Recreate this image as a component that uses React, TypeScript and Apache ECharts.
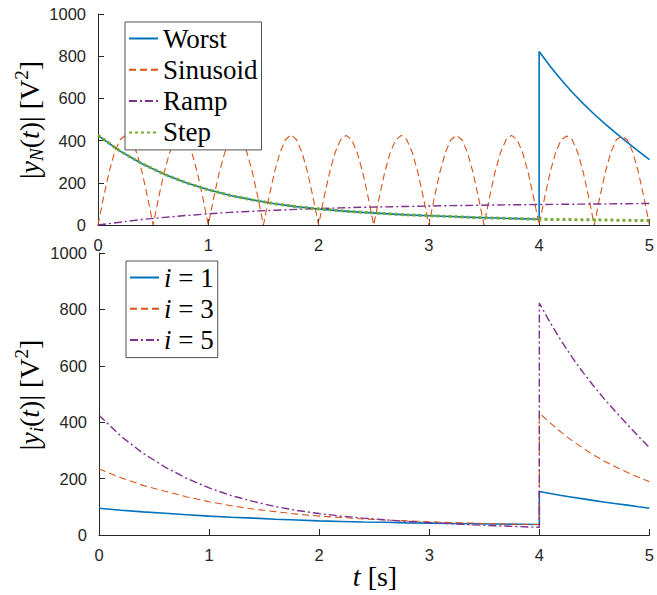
import React, { useEffect, useRef } from "react";
import * as echarts from "echarts";

// ---------- data ----------
const T_PRE = [0, 0.2, 0.4, 0.6, 0.8, 1.0, 1.2, 1.4, 1.6, 1.8, 2.0, 2.2, 2.4, 2.6, 2.8, 3.0, 3.2, 3.4, 3.6, 3.8, 4.0];
const T_POST = [4.0, 4.1, 4.2, 4.3, 4.4, 4.5, 4.6, 4.7, 4.8, 4.9, 5.0];
const T_FULL = [0, 0.2, 0.4, 0.6, 0.8, 1.0, 1.2, 1.4, 1.6, 1.8, 2.0, 2.2, 2.4, 2.6, 2.8, 3.0, 3.2, 3.4, 3.6, 3.8, 4.0, 4.2, 4.4, 4.6, 4.8, 5.0];
const T_SIN = [
  0, 0.05, 0.1, 0.15, 0.2, 0.25, 0.3, 0.35, 0.4, 0.45,
  0.5, 0.55, 0.6, 0.65, 0.7, 0.75, 0.8, 0.85, 0.9, 0.95,
  1.0, 1.05, 1.1, 1.15, 1.2, 1.25, 1.3, 1.35, 1.4, 1.45,
  1.5, 1.55, 1.6, 1.65, 1.7, 1.75, 1.8, 1.85, 1.9, 1.95,
  2.0, 2.05, 2.1, 2.15, 2.2, 2.25, 2.3, 2.35, 2.4, 2.45,
  2.5, 2.55, 2.6, 2.65, 2.7, 2.75, 2.8, 2.85, 2.9, 2.95,
  3.0, 3.05, 3.1, 3.15, 3.2, 3.25, 3.3, 3.35, 3.4, 3.45,
  3.5, 3.55, 3.6, 3.65, 3.7, 3.75, 3.8, 3.85, 3.9, 3.95,
  4.0, 4.05, 4.1, 4.15, 4.2, 4.25, 4.3, 4.35, 4.4, 4.45,
  4.5, 4.55, 4.6, 4.65, 4.7, 4.75, 4.8, 4.85, 4.9, 4.95,
  5.0,
];

const WORST_PRE = [425, 350, 290, 241, 200, 167, 140, 119, 101, 87, 76, 67, 60, 54, 48, 44, 40, 36, 33, 30, 27];
const WORST_POST = [822, 752, 688, 629, 575, 525, 478, 434, 392, 350, 310];
const SINUSOID = [
  0, 131, 250, 344, 404, 425, 404, 344, 250, 131,
  0, 131, 250, 344, 404, 425, 404, 344, 250, 131,
  0, 131, 250, 344, 404, 428, 404, 344, 250, 131,
  0, 131, 250, 344, 404, 428, 404, 344, 250, 131,
  0, 131, 250, 344, 404, 425, 404, 344, 250, 131,
  0, 131, 250, 344, 404, 425, 404, 344, 250, 131,
  0, 131, 250, 344, 404, 425, 404, 344, 250, 131,
  0, 131, 250, 344, 404, 425, 404, 344, 250, 131,
  0, 131, 250, 344, 404, 422, 404, 344, 250, 131,
  0, 131, 250, 344, 404, 422, 404, 344, 250, 131,
  0,
];
const RAMP = [0, 13, 26, 36, 45, 53, 60, 65, 70, 74, 78, 81, 84, 86, 88, 90, 92, 93, 95, 96, 97, 98, 99, 100, 101, 102];
const STEP = [425, 350, 290, 241, 200, 167, 140, 119, 101, 87, 76, 67, 60, 54, 48, 44, 40, 36, 33, 30, 27, 26, 25, 24, 22, 21];

const I1_PRE = [95, 88, 82, 77, 72, 67, 63, 60, 56, 53, 50, 48, 46, 45, 43, 42, 41, 40, 39, 38, 37];
const I1_POST = [154, 147, 140, 134, 128, 122, 116, 111, 106, 100, 95];
const I3_PRE = [234, 203, 176, 155, 135, 118, 104, 92, 83, 74, 67, 62, 57, 53, 50, 47, 44, 42, 40, 38, 37];
const I3_POST = [432, 397, 364, 334, 307, 282, 260, 240, 222, 205, 189];
const I5_PRE = WORST_PRE;
const I5_POST = WORST_POST;

const X_TICKS = [0, 1, 2, 3, 4, 5];
const Y_TICKS = [0, 200, 400, 600, 800, 1000];

const TOP_NAMES = ["Worst", "Sinusoid", "Ramp", "Step"];
const BOTTOM_NAMES = ["i = 1", "i = 3", "i = 5"];

// ---------- helpers ----------
const zip = (ts: number[], vs: number[]) => ts.map((t, k) => [t, vs[k]]);
const joinJump = (tPre: number[], pre: number[], tPost: number[], post: number[]) =>
  zip(tPre, pre).concat(zip(tPost, post));

const BLUE = "#0072BD";
const ORANGE = "#D95319";
const PURPLE = "#7E2F8E";
const GREEN = "#77AC30";
const AX = "#262626";

function axisCommon(grid: number) {
  return {
    gridIndex: grid,
    axisLine: { show: true, lineStyle: { color: AX, width: 1 } },
    axisTick: { show: true, inside: true, length: 6, lineStyle: { color: AX, width: 1 } },
    splitLine: { show: false },
    axisLabel: { color: AX, fontFamily: "Liberation Sans", fontSize: 16.5, formatter: (v: number) => String(v) },
  };
}

export default function App() {
  const ref = useRef<HTMLDivElement>(null);
  useEffect(() => {
    if (!ref.current) return;
    const chart = echarts.init(ref.current, undefined, { renderer: "svg" });

    const xAxis = [0, 1].map((g) => {
      const c = axisCommon(g);
      return {
        ...c,
        type: "value",
        min: X_TICKS[0],
        max: X_TICKS[X_TICKS.length - 1],
        interval: 1,
        axisLabel: { ...c.axisLabel, margin: 11 },
      };
    });
    const yAxis = [0, 1].map((g) => {
      const c = axisCommon(g);
      return {
        ...c,
        type: "value",
        min: Y_TICKS[0],
        max: Y_TICKS[Y_TICKS.length - 1],
        interval: 200,
        axisLabel: { ...c.axisLabel, margin: 12 },
      };
    });

    const line = (name: string, data: number[][], color: string, width: number, type: any, g: number) => ({
      name,
      type: "line",
      xAxisIndex: g,
      yAxisIndex: g,
      data,
      symbol: "none",
      showSymbol: false,
      smooth: false,
      lineStyle: { color, width, type },
      itemStyle: { color },
      z: 3,
    });

    const rich = {
      n: { fontFamily: "Liberation Serif", fontSize: 28, lineHeight: 34, verticalAlign: "middle", fill: "#000" },
      i: { fontFamily: "Liberation Serif", fontStyle: "italic", fontSize: 28, lineHeight: 34, verticalAlign: "middle", fill: "#000" },
      sub: { fontFamily: "Liberation Serif", fontStyle: "italic", fontSize: 19, lineHeight: 34, verticalAlign: "bottom", fill: "#000" },
      sup: { fontFamily: "Liberation Serif", fontSize: 19, lineHeight: 34, verticalAlign: "top", fill: "#000" },
    };

    const legendBase = {
      orient: "vertical",
      padding: [3, 4, 4, 3],
      itemGap: 4.3,
      itemHeight: 14,
      itemWidth: 29,
      backgroundColor: "#ffffff",
      borderColor: AX,
      borderWidth: 0.8,
      borderRadius: 0,
      itemStyle: { opacity: 0 },
    };

    chart.setOption({
      animation: false,
      backgroundColor: "#ffffff",
      grid: [
        { left: 98, right: 6, top: 14, height: 211 },
        { left: 99, right: 5, top: 253, height: 282 },
      ],
      xAxis,
      yAxis,
      legend: [
        {
          ...legendBase,
          data: TOP_NAMES,
          left: 125,
          top: 22,
          textStyle: { fontFamily: "Liberation Serif", fontSize: 27, color: "#000", lineHeight: 27 },
        },
        {
          ...legendBase,
          data: BOTTOM_NAMES,
          left: 126,
          top: 261,
          formatter: (name: string) => "{it|i}{n|" + name.slice(1) + "}",
          textStyle: {
            fontFamily: "Liberation Serif",
            fontSize: 27,
            color: "#000",
            lineHeight: 27,
            rich: {
              it: { fontFamily: "Liberation Serif", fontStyle: "italic", fontSize: 27, color: "#000" },
              n: { fontFamily: "Liberation Serif", fontSize: 27, color: "#000" },
            },
          },
        },
      ],
      graphic: [
        {
          type: "text",
          x: 29,
          y: 120,
          rotation: Math.PI / 2,
          style: {
            text: "{n||}{i|y}{sub|N}{n|(}{i|t}{n|)| [V}{sup|2}{n|]}",
            fontFamily: "Liberation Serif",
            fontSize: 28,
            rich,
            align: "center",
            verticalAlign: "middle",
          },
        },
        {
          type: "text",
          x: 29,
          y: 395,
          rotation: Math.PI / 2,
          style: {
            text: "{n||}{i|y}{sub|i}{n|(}{i|t}{n|)| [V}{sup|2}{n|]}",
            fontFamily: "Liberation Serif",
            fontSize: 28,
            rich,
            align: "center",
            verticalAlign: "middle",
          },
        },
        {
          type: "text",
          x: 375,
          y: 576,
          style: {
            text: "{i|t}{n| [s]}",
            fontFamily: "Liberation Serif",
            fontSize: 28,
            rich,
            align: "center",
            verticalAlign: "middle",
          },
        },
      ],
      series: [
        line("Worst", joinJump(T_PRE, WORST_PRE, T_POST, WORST_POST), BLUE, 1.6, "solid", 0),
        line("Sinusoid", zip(T_SIN, SINUSOID), ORANGE, 1.1, [7, 4], 0),
        line("Ramp", zip(T_FULL, RAMP), PURPLE, 1.4, [8, 3, 2, 3], 0),
        line("Step", zip(T_FULL, STEP), GREEN, 3, [3, 3], 0),
        line("i = 1", joinJump(T_PRE, I1_PRE, T_POST, I1_POST), BLUE, 1.6, "solid", 1),
        line("i = 3", joinJump(T_PRE, I3_PRE, T_POST, I3_POST), ORANGE, 1.1, [7, 4], 1),
        line("i = 5", joinJump(T_PRE, I5_PRE, T_POST, I5_POST), PURPLE, 1.4, [8, 3, 2, 3], 1),
      ],
    });
    return () => chart.dispose();
  }, []);

  return (
    <div
      ref={ref}
      style={{ position: "fixed", left: 0, top: 0, width: 657, height: 595, background: "#fff" }}
    />
  );
}
